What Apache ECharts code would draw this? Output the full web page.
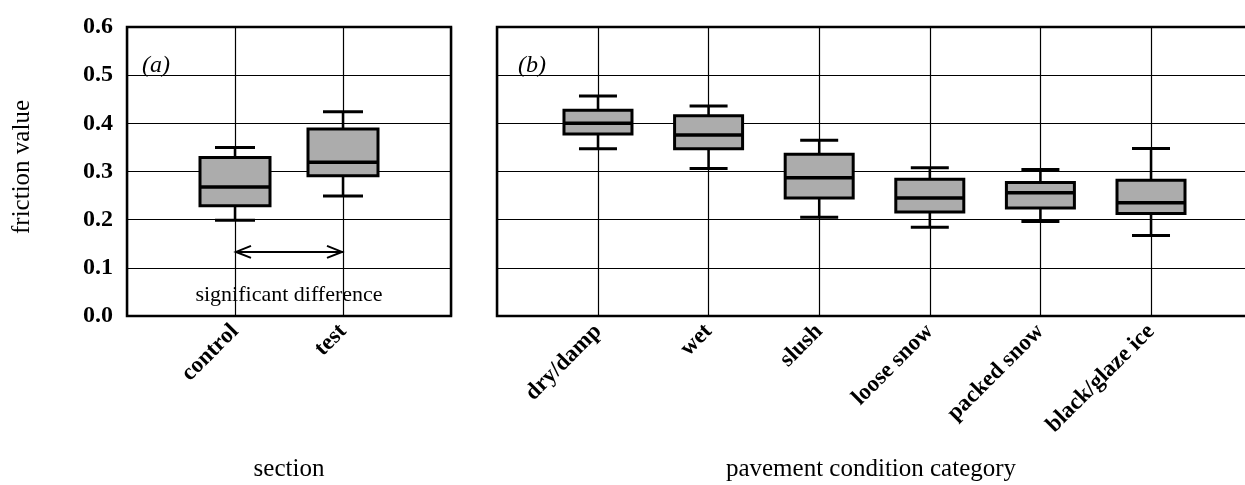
<!DOCTYPE html>
<html><head><meta charset="utf-8">
<script src="https://cdn.jsdelivr.net/npm/echarts@6/dist/echarts.min.js"></script>
<style>html,body{margin:0;padding:0;background:#fff}#c{width:1245px;height:485px}</style>
</head><body><div id="c"></div>
<script>
// ---- data ----
const sectionCategories = ['control', 'test'];
const sectionMin    = [0.199, 0.249];
const sectionQ1     = [0.229, 0.291];
const sectionMedian = [0.268, 0.319];
const sectionQ3     = [0.329, 0.388];
const sectionMax    = [0.350, 0.424];

const pavementCategories = ['dry/damp', 'wet', 'slush', 'loose snow', 'packed snow', 'black/glaze ice'];
const pavementMin    = [0.347, 0.306, 0.205, 0.184, 0.196, 0.167];
const pavementQ1     = [0.378, 0.347, 0.245, 0.216, 0.224, 0.213];
const pavementMedian = [0.400, 0.376, 0.287, 0.245, 0.256, 0.235];
const pavementQ3     = [0.427, 0.416, 0.336, 0.284, 0.277, 0.282];
const pavementMax    = [0.457, 0.436, 0.365, 0.308, 0.304, 0.348];

const yTickLabels = ['0.0', '0.1', '0.2', '0.3', '0.4', '0.5', '0.6'];
const significantPair = ['control', 'test'];
const significantLevel = 0.133;
const significantText = 'significant difference';
const significantTextLevel = 0.044;

// ---- rendering ----
const FONT = '"Liberation Serif", "Times New Roman", serif';
const chart = echarts.init(document.getElementById('c'), null, {renderer: 'canvas'});

function rows(cats, mn, q1, md, q3, mx) {
  return cats.map((c, i) => [i + 1, mn[i], q1[i], md[i], q3[i], mx[i]]);
}

function boxRenderer(boxW, capW) {
  return function (params, api) {
    const x = api.value(0);
    const lo = api.coord([x, api.value(1)]);
    const q1 = api.coord([x, api.value(2)]);
    const md = api.coord([x, api.value(3)]);
    const q3 = api.coord([x, api.value(4)]);
    const hi = api.coord([x, api.value(5)]);
    const cx = md[0], hb = boxW / 2, hc = capW / 2;
    const ln = (x1, y1, x2, y2, w) => ({type: 'line', shape: {x1, y1, x2, y2}, style: {stroke: '#000', lineWidth: w}});
    return {type: 'group', children: [
      ln(cx, hi[1], cx, q3[1], 2.5),
      ln(cx, q1[1], cx, lo[1], 2.5),
      ln(cx - hc, hi[1], cx + hc, hi[1], 3),
      ln(cx - hc, lo[1], cx + hc, lo[1], 3),
      {type: 'rect', shape: {x: cx - hb, y: q3[1], width: boxW, height: q1[1] - q3[1]},
       style: {fill: '#acacac', stroke: '#000', lineWidth: 3}},
      ln(cx - hb, md[1], cx + hb, md[1], 3.5)
    ]};
  };
}

function arrowRenderer(params, api) {
  const a = api.coord([api.value(0), api.value(2)]);
  const b = api.coord([api.value(1), api.value(2)]);
  const t = api.coord([(api.value(0) + api.value(1)) / 2, api.value(3)]);
  const st = {stroke: '#000', lineWidth: 2, fill: null};
  return {type: 'group', children: [
    {type: 'line', shape: {x1: a[0], y1: a[1], x2: b[0], y2: b[1]}, style: st},
    {type: 'polyline', shape: {points: [[a[0] + 16, a[1] - 6], [a[0] + 1, a[1]], [a[0] + 16, a[1] + 6]]}, style: st},
    {type: 'polyline', shape: {points: [[b[0] - 16, b[1] - 6], [b[0] - 1, b[1]], [b[0] - 16, b[1] + 6]]}, style: st},
    {type: 'text', x: t[0], y: t[1], style: {text: significantText, font: '22px ' + FONT, fill: '#000', align: 'center', verticalAlign: 'middle'}}
  ]};
}

const gridLine = {show: true, lineStyle: {color: '#000', width: 1.2}};
const catLabel = {rotate: 45, margin: 12, color: '#000', fontFamily: FONT, fontSize: 23, fontWeight: 'bold'};
const near = v => Math.abs(v - Math.round(v)) < 1e-6;

chart.setOption({
  animation: false,
  backgroundColor: '#fff',
  grid: [
    {left: 127, top: 27, width: 324, height: 289, show: true, borderColor: '#000', borderWidth: 2.5,
     containLabel: false, outerBoundsMode: 'none'},
    {left: 497, top: 27, width: 752, height: 289, show: true, borderColor: '#000', borderWidth: 2.5,
     containLabel: false, outerBoundsMode: 'none'}
  ],
  xAxis: [
    {type: 'value', gridIndex: 0, min: 0, max: 3, interval: 1,
     axisLine: {show: false}, axisTick: {show: false}, splitLine: gridLine,
     axisLabel: Object.assign({}, catLabel, {formatter: v => sectionCategories[Math.round(v) - 1] || ''})},
    {type: 'value', gridIndex: 1, min: 0.087, max: 6.886,
     axisLine: {show: false}, axisTick: {show: false}, splitLine: gridLine,
     axisLabel: Object.assign({}, catLabel, {formatter: v => near(v) ? (pavementCategories[Math.round(v) - 1] || '') : ''})}
  ],
  yAxis: [
    {type: 'value', gridIndex: 0, min: 0, max: 0.6, interval: 0.1,
     axisLine: {show: false}, axisTick: {show: false}, splitLine: gridLine,
     axisLabel: {margin: 14, color: '#000', fontFamily: FONT, fontSize: 24, fontWeight: 'bold',
                 formatter: v => yTickLabels[Math.round(v * 10)]}},
    {type: 'value', gridIndex: 1, min: 0, max: 0.6, interval: 0.1,
     axisLine: {show: false}, axisTick: {show: false}, splitLine: gridLine,
     axisLabel: {show: false}}
  ],
  series: [
    {type: 'custom', xAxisIndex: 0, yAxisIndex: 0, renderItem: boxRenderer(70, 40),
     encode: {x: 0, y: [1, 2, 3, 4, 5]},
     data: rows(sectionCategories, sectionMin, sectionQ1, sectionMedian, sectionQ3, sectionMax)},
    {type: 'custom', xAxisIndex: 1, yAxisIndex: 1, renderItem: boxRenderer(68, 38),
     encode: {x: 0, y: [1, 2, 3, 4, 5]},
     data: rows(pavementCategories, pavementMin, pavementQ1, pavementMedian, pavementQ3, pavementMax)},
    {type: 'custom', xAxisIndex: 0, yAxisIndex: 0, renderItem: arrowRenderer,
     encode: {x: [0, 1], y: [2, 3]},
     data: [[sectionCategories.indexOf(significantPair[0]) + 1, sectionCategories.indexOf(significantPair[1]) + 1,
             significantLevel, significantTextLevel]]}
  ],
  graphic: [
    {type: 'text', x: 142, y: 66, style: {text: '(a)', font: 'italic 24px ' + FONT, fill: '#000', verticalAlign: 'middle'}},
    {type: 'text', x: 518, y: 66, style: {text: '(b)', font: 'italic 24px ' + FONT, fill: '#000', verticalAlign: 'middle'}},
    {type: 'text', x: 22, y: 167, rotation: Math.PI / 2,
     style: {text: 'friction value', font: '25px ' + FONT, fill: '#000', align: 'center', verticalAlign: 'middle'}},
    {type: 'text', x: 289, y: 469, style: {text: 'section', font: '25px ' + FONT, fill: '#000', align: 'center', verticalAlign: 'middle'}},
    {type: 'text', x: 871, y: 469, style: {text: 'pavement condition category', font: '25px ' + FONT, fill: '#000', align: 'center', verticalAlign: 'middle'}}
  ]
});
</script>
</body></html>
